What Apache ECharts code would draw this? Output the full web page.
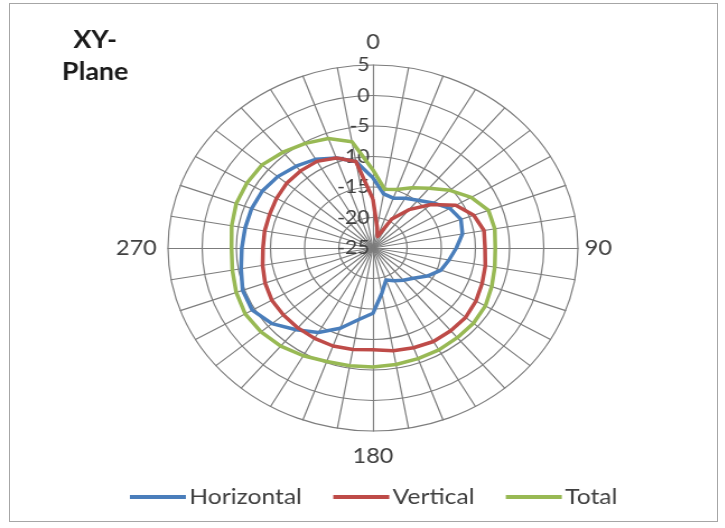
<!DOCTYPE html>
<html>
<head>
<meta charset="utf-8">
<script src="https://cdn.jsdelivr.net/npm/echarts@6/dist/echarts.min.js"></script>
<style>
  html, body { margin: 0; padding: 0; background: #fff; }
  #frame { position: absolute; left: 9px; top: 3px; width: 707px; height: 517px; border: 1px solid #a6a6a6; z-index: 2; pointer-events: none; }
  /* the reference is stretched horizontally, so the chart is drawn narrower and scaled */
  #chart { position: absolute; left: 0; top: 0; width: 647px; height: 528px; transform: scaleX(1.12); transform-origin: 0 0; }
</style>
</head>
<body>
<div id="frame"></div>
<div id="chart"></div>
<script>
const angles = [0, 10, 20, 30, 40, 50, 60, 70, 80, 90, 100, 110, 120, 130, 140, 150, 160, 170,
  180, 190, 200, 210, 220, 230, 240, 250, 260, 270, 280, 290, 300, 310, 320, 330, 340, 350]
const angleLabels = ['0', '90', '180', '270']

const horizontal = [-13.5, -16, -16.3, -15.6, -14.8, -13.5, -12, -11.3, -11.7, -12.8, -13.7, -14.4,
  -15.8, -17.3, -18.1, -18.8, -19.4, -17.5, -14.3, -13.1, -11, -9, -7.5, -5.7, -4.6, -4.7, -5.4,
  -5.8, -6, -6.1, -6.3, -6.8, -7.5, -8.2, -9.3, -10.6]
const vertical = [-17, -21.5, -23, -19.5, -16.8, -13.9, -11, -9.3, -8.5, -8.6, -8.3, -8.0, -7.6,
  -7.3, -7.3, -7.3, -7.6, -7.9, -8.3, -8.1, -7.9, -7.9, -7.9, -7.9, -7.9, -8.2, -8.6, -8.9, -8.9,
  -8.9, -8.7, -8.5, -8.5, -8.6, -9.3, -10.6]
const total = [-12.2, -15.2, -14.8, -13.6, -12.2, -10.3, -8.4, -7.0, -6.9, -7.1, -6.9, -6.5, -6.0,
  -5.8, -5.8, -5.7, -5.7, -5.6, -5.5, -5.4, -5.2, -4.6, -4.0, -3.6, -3.4, -3.7, -4.1, -4.3, -4.0,
  -3.7, -3.7, -3.8, -4.5, -5.2, -5.9, -7.3]

const rMin = -25
const rMax = 5
const gray = '#7c7c7c'
const textColor = '#404040'
const font = 'Lato, "Open Sans", sans-serif'

// radar runs counter-clockwise, so walk the angles backwards: 0, 350, 340 ... 10
const order = angles.map((a, i) => (angles.length - i) % angles.length)
const gaps = { '0': 12, '90': 6, '180': 15, '270': 10 }

const indicator = order.map((idx, i) => {
  const a = String(angles[idx])
  const shown = angleLabels.indexOf(a) >= 0
  const item = { name: shown ? a : '', min: rMin, max: rMax }
  if (shown) item.nameGap = gaps[a]
  if (i === 0) item.axisLabel = { show: true }
  return item
})

const pick = arr => order.map(idx => arr[idx])

const chart = echarts.init(document.getElementById('chart'))

chart.setOption({
  animation: false,
  graphic: [
    {
      type: 'text',
      x: 85,
      y: 24,
      style: {
        text: 'XY-\nPlane',
        font: 'bold 24px ' + font,
        fill: '#1a1a1a',
        textAlign: 'center',
        textVerticalAlign: 'top',
        lineHeight: 32,
      },
    },
  ],
  legend: {
    left: 111,
    top: 481,
    icon: 'rect',
    itemWidth: 50,
    itemHeight: 4,
    itemGap: 28,
    textStyle: {
      color: textColor,
      fontSize: 22,
      fontFamily: font,
      padding: [0, 0, 0, -2],
    },
    data: ['Horizontal', 'Vertical', 'Total'],
  },
  radar: {
    center: [333, 248],
    radius: 183,
    startAngle: 90,
    shape: 'circle',
    splitNumber: 6,
    indicator: indicator,
    axisName: {
      color: textColor,
      fontSize: 21,
      fontFamily: font,
    },
    nameGap: 12,
    axisLine: { lineStyle: { color: gray, width: 1.2 } },
    splitLine: { lineStyle: { color: gray, width: 1.2 } },
    splitArea: { show: false },
    axisTick: { show: false },
    axisLabel: {
      show: false,
      color: textColor,
      fontSize: 19,
      fontFamily: font,
      margin: 3,
    },
  },
  series: [
    {
      type: 'radar',
      symbol: 'none',
      data: [
        {
          name: 'Horizontal',
          value: pick(horizontal),
          itemStyle: { color: '#4a7ebb' },
          lineStyle: { color: '#4a7ebb', width: 3.5 },
        },
        {
          name: 'Vertical',
          value: pick(vertical),
          itemStyle: { color: '#be4b48' },
          lineStyle: { color: '#be4b48', width: 3.5 },
        },
        {
          name: 'Total',
          value: pick(total),
          itemStyle: { color: '#98b954' },
          lineStyle: { color: '#98b954', width: 3.5 },
        },
      ],
    },
  ],
})
</script>
</body>
</html>
